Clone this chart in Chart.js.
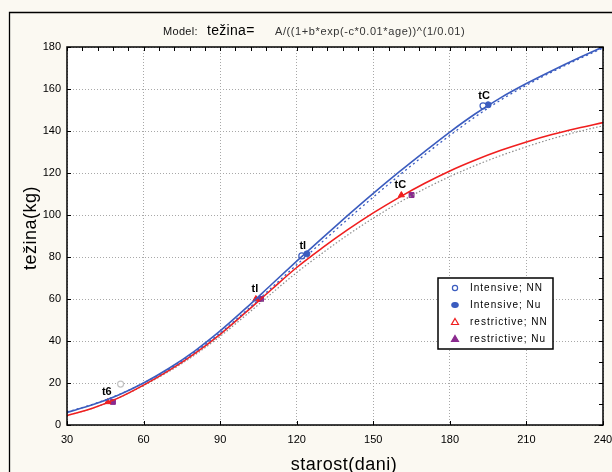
<!DOCTYPE html>
<html>
<head>
<meta charset="utf-8">
<script src="https://cdn.jsdelivr.net/npm/chart.js@4"></script>
<style>
  html, body { margin: 0; padding: 0; background: #fbf9f2; }
  canvas { display: block; }
</style>
</head>
<body>
<canvas id="growthChart" width="612" height="472"></canvas>
<script>
// fitted curves, read every 10 days
const ages = [30, 40, 50, 60, 70, 80, 90, 100, 110, 120, 130, 140, 150, 160, 170, 180, 190, 200, 210, 220, 230, 240];
const intensiveNN = [6, 9.6, 14.2, 20, 27, 35.2, 44.8, 55.5, 66.8, 78, 89, 99.8, 110.3, 120.4, 130.1, 139.5, 148.2, 155.9, 162.6, 168.7, 174.5, 180];
const intensiveNu = [6.2, 9.8, 14.3, 20, 26.6, 34.6, 43.8, 54.2, 65.2, 76.3, 87.2, 98, 108.5, 118.7, 128.5, 137.9, 146.8, 154.8, 161.8, 168.1, 174, 179.5];
const restrictiveNN = [4.5, 8, 12.8, 19, 26, 34, 43.2, 53.6, 64.4, 75, 84.3, 93, 101, 108.3, 115, 121, 126.2, 130.8, 134.8, 138.3, 141.3, 144];
const restrictiveNu = [4.5, 8, 12.8, 18.8, 25.5, 33.3, 42.2, 52.2, 62.5, 72.6, 81.8, 90.5, 98.5, 105.8, 112.4, 118.3, 123.6, 128.3, 132.5, 136.3, 139.6, 142.5];

// marked points (stages)
const intNNPointAges = [51, 122, 193];
const intNNPointWeights = [19.5, 80.5, 152];
const intNuPointAges = [124, 195];
const intNuPointWeights = [81.5, 152.5];
const resNNPointAges = [46, 104, 161];
const resNNPointWeights = [11, 60, 109.5];
const resNuPointAges = [48, 106, 165];
const resNuPointWeights = [11, 60, 109.5];

const resStageLabels = ["t6", "tl", "tC"];
const intStageLabels = ["", "tl", "tC"];

const xTicks = [30, 60, 90, 120, 150, 180, 210, 240];
const yTicks = [0, 20, 40, 60, 80, 100, 120, 140, 160, 180];

const BLUE = "#3b5cbf";
const RED = "#f01e1e";
const PURPLE = "#8a2a8e";
const GREY = "#8c8c8c";
const FONT = "'Liberation Sans', Arial, sans-serif";

const pts = (xs, ys) => xs.map((x, i) => ({ x: x, y: ys[i] }));

const legendItems = [
    { label: "Intensive; NN", style: "circle", fill: "#fff", stroke: BLUE },
    { label: "Intensive; Nu", style: "ellipse", fill: BLUE, stroke: BLUE },
    { label: "restrictive; NN", style: "triangle", fill: "#fff", stroke: RED },
    { label: "restrictive; Nu", style: "triangle", fill: PURPLE, stroke: PURPLE }
];

const decor = {
    id: "decor",
    beforeDraw(chart) {
        const { ctx, chartArea: a } = chart;
        ctx.save();
        ctx.fillStyle = "#fbf9f2";
        ctx.fillRect(0, 0, chart.width, chart.height);
        ctx.strokeStyle = "#000";
        ctx.lineWidth = 1.3;
        ctx.beginPath();
        ctx.moveTo(9.5, chart.height + 2);
        ctx.lineTo(9.5, 12.5);
        ctx.lineTo(chart.width + 2, 12.5);
        ctx.stroke();
        ctx.fillStyle = "#fff";
        ctx.fillRect(a.left, a.top, a.right - a.left, a.bottom - a.top);
        ctx.restore();
    },
    afterDraw(chart) {
        const { ctx, chartArea: a } = chart;
        const xs = chart.scales.x, ys = chart.scales.y;
        ctx.save();

        // plot frame
        ctx.strokeStyle = "#000";
        ctx.lineWidth = 1.5;
        ctx.strokeRect(a.left, a.top, a.right - a.left, a.bottom - a.top);

        // minor inward ticks
        ctx.lineWidth = 1;
        ctx.beginPath();
        for (let v = 30; v <= 240; v += 6) {
            const px = Math.round(xs.getPixelForValue(v)) + 0.5;
            ctx.moveTo(px, a.top);
            ctx.lineTo(px, a.top + 4);
        }
        for (let v = 0; v <= 180; v += 10) {
            const py = Math.round(ys.getPixelForValue(v)) + 0.5;
            ctx.moveTo(a.right, py);
            ctx.lineTo(a.right - 4, py);
        }
        xTicks.forEach(v => {
            const px = Math.round(xs.getPixelForValue(v)) + 0.5;
            ctx.moveTo(px, a.bottom);
            ctx.lineTo(px, a.bottom - 4);
        });
        yTicks.forEach(v => {
            const py = Math.round(ys.getPixelForValue(v)) + 0.5;
            ctx.moveTo(a.left, py);
            ctx.lineTo(a.left + 4, py);
        });
        ctx.stroke();

        // stage labels
        ctx.fillStyle = "#000";
        ctx.font = "bold 11px " + FONT;
        ctx.textAlign = "center";
        ctx.textBaseline = "middle";
        resNNPointAges.forEach((age, i) => {
            ctx.fillText(resStageLabels[i], xs.getPixelForValue(age) - 1, ys.getPixelForValue(resNNPointWeights[i]) - 10);
        });
        intNNPointAges.forEach((age, i) => {
            if (!intStageLabels[i]) return;
            ctx.fillText(intStageLabels[i], xs.getPixelForValue(age) + 1, ys.getPixelForValue(intNNPointWeights[i]) - 10);
        });

        // legend
        const lx = a.right - 165, ly = a.top + 231, lw = 115, lh = 71;
        ctx.fillStyle = "#fff";
        ctx.fillRect(lx, ly, lw, lh);
        ctx.strokeStyle = "#000";
        ctx.lineWidth = 1.5;
        ctx.strokeRect(lx, ly, lw, lh);
        ctx.font = "10px " + FONT;
        ctx.letterSpacing = "1px";
        ctx.textAlign = "left";
        ctx.textBaseline = "middle";
        legendItems.forEach((it, i) => {
            const cy = ly + 10 + i * 17;
            ctx.fillStyle = it.fill;
            ctx.strokeStyle = it.stroke;
            ctx.lineWidth = 1.2;
            ctx.beginPath();
            if (it.style === "circle") {
                ctx.arc(lx + 17, cy, 2.6, 0, Math.PI * 2);
            } else if (it.style === "ellipse") {
                ctx.ellipse(lx + 17, cy, 3.2, 2.4, 0, 0, Math.PI * 2);
            } else {
                ctx.moveTo(lx + 17, cy - 3.5);
                ctx.lineTo(lx + 20.5, cy + 2.5);
                ctx.lineTo(lx + 13.5, cy + 2.5);
                ctx.closePath();
            }
            ctx.fill();
            ctx.stroke();
            ctx.fillStyle = "#000";
            ctx.fillText(it.label, lx + 32, cy);
        });

        // axis titles
        ctx.letterSpacing = "0.5px";
        ctx.fillStyle = "#000";
        ctx.font = "18px " + FONT;
        ctx.textAlign = "center";
        ctx.textBaseline = "alphabetic";
        ctx.fillText("starost(dani)", 344, chart.height - 2);
        ctx.save();
        ctx.translate(36, 228);
        ctx.rotate(-Math.PI / 2);
        ctx.fillText("težina(kg)", 0, 0);
        ctx.restore();

        // title
        ctx.textAlign = "left";
        ctx.textBaseline = "alphabetic";
        ctx.letterSpacing = "0.3px";
        ctx.font = "11px " + FONT;
        ctx.fillStyle = "#111";
        ctx.fillText("Model:", 163, 35);
        ctx.font = "14px " + FONT;
        ctx.fillStyle = "#000";
        ctx.fillText("težina=", 207, 35);
        ctx.letterSpacing = "0.6px";
        ctx.font = "11px " + FONT;
        ctx.fillStyle = "#333";
        ctx.fillText("A/((1+b*exp(-c*0.01*age))^(1/0.01)", 275, 35);
        ctx.letterSpacing = "0px";

        ctx.restore();
    }
};

const ctx = document.getElementById("growthChart");

new Chart(ctx, {
    type: "line",
    data: {
        datasets: [
            {
                label: "Intensive; NN curve",
                data: pts(ages, intensiveNN),
                borderColor: BLUE,
                borderWidth: 1.6,
                pointRadius: 0,
                cubicInterpolationMode: "monotone"
            },
            {
                label: "Intensive; Nu curve",
                data: pts(ages, intensiveNu),
                borderColor: BLUE,
                borderWidth: 1.3,
                borderDash: [2, 3],
                pointRadius: 0,
                cubicInterpolationMode: "monotone"
            },
            {
                label: "restrictive; NN curve",
                data: pts(ages, restrictiveNN),
                borderColor: RED,
                borderWidth: 1.6,
                pointRadius: 0,
                cubicInterpolationMode: "monotone"
            },
            {
                label: "restrictive; Nu curve",
                data: pts(ages, restrictiveNu),
                borderColor: GREY,
                borderWidth: 1.2,
                borderDash: [1.5, 2],
                pointRadius: 0,
                cubicInterpolationMode: "monotone"
            },
            {
                type: "scatter",
                label: "Intensive; NN",
                data: pts(intNNPointAges, intNNPointWeights),
                pointStyle: "circle",
                pointRadius: 3,
                backgroundColor: "#fff",
                borderColor: ["#c4c4c4", BLUE, BLUE],
                borderWidth: 1.2
            },
            {
                type: "scatter",
                label: "Intensive; Nu",
                data: pts(intNuPointAges, intNuPointWeights),
                pointStyle: "circle",
                pointRadius: 3,
                backgroundColor: BLUE,
                borderColor: BLUE
            },
            {
                type: "scatter",
                label: "restrictive; NN",
                data: pts(resNNPointAges, resNNPointWeights),
                pointStyle: "triangle",
                pointRadius: 3.5,
                backgroundColor: RED,
                borderColor: RED,
                borderWidth: 1
            },
            {
                type: "scatter",
                label: "restrictive; Nu",
                data: pts(resNuPointAges, resNuPointWeights),
                pointStyle: "rect",
                pointRadius: 3.5,
                backgroundColor: PURPLE,
                borderColor: PURPLE,
                borderWidth: 1
            }
        ]
    },
    options: {
        responsive: false,
        animation: false,
        devicePixelRatio: 1,
        layout: {
            padding: { top: 47, right: 9, left: 0, bottom: 0 }
        },
        plugins: {
            legend: { display: false },
            tooltip: { enabled: false },
            title: { display: false }
        },
        scales: {
            x: {
                type: "linear",
                min: 30,
                max: 240,
                afterFit: s => {
                    s.height = 47;
                    s.paddingLeft = 0;
                    s.paddingRight = 0;
                },
                afterBuildTicks: s => { s.ticks = xTicks.map(v => ({ value: v })); },
                ticks: {
                    color: "#000",
                    font: { family: FONT, size: 11 },
                    padding: 8,
                    maxRotation: 0
                },
                grid: {
                    color: "#a8a8a8",
                    lineWidth: 1,
                    drawTicks: false
                },
                border: { display: false, dash: [1, 2] }
            },
            y: {
                min: 0,
                max: 180,
                afterFit: s => {
                    s.width = 67;
                    s.paddingTop = 0;
                    s.paddingBottom = 0;
                },
                afterBuildTicks: s => { s.ticks = yTicks.map(v => ({ value: v })); },
                ticks: {
                    color: "#000",
                    font: { family: FONT, size: 11 },
                    padding: 6
                },
                grid: {
                    color: "#a8a8a8",
                    lineWidth: 1,
                    drawTicks: false
                },
                border: { display: false, dash: [1, 2] }
            }
        }
    },
    plugins: [decor]
});
</script>
</body>
</html>
